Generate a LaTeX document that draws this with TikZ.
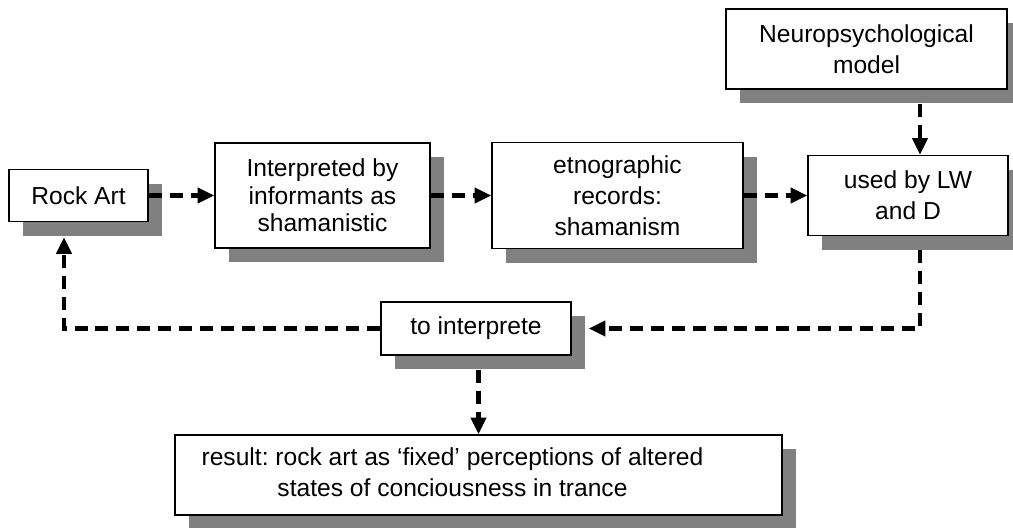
\documentclass[tikz,border=0pt]{standalone}
\usepackage{fontspec}
\setmainfont{Liberation Sans}
\usetikzlibrary{arrows.meta, shadows}
\frenchspacing
\newlength{\pxl}
\setlength{\pxl}{0.02cm}
\definecolor{shadowgray}{RGB}{128,128,128}
\tikzstyle{sbox}=[rectangle, draw=black, line width=0.8pt, fill=white,
  align=center, font=\fontsize{14}{17.5}\selectfont, inner sep=2pt,
  drop shadow={shadow xshift=14\pxl, shadow yshift=-14\pxl,
  fill=shadowgray, opacity=1}]
\tikzstyle{darr}=[-{Triangle[length=9.5pt, width=8.5pt]}, line width=2.3pt,
  dash pattern=on 7.4pt off 4.5pt]

\begin{document}
\begin{tikzpicture}[x=0.02cm, y=-0.02cm]
  \useasboundingbox (0,0) rectangle (1013,527);
  \node[sbox, minimum width=139\pxl, minimum height=52\pxl] (rock) at (78.5,195.5)
    {Rock Art};
  \node[sbox, minimum width=215\pxl, minimum height=105\pxl,
    font=\fontsize{14}{15.6}\selectfont] (inf) at (322.5,195.5)
    {Interpreted by\\informants as\\shamanistic};
  \node[sbox, minimum width=251\pxl, minimum height=106\pxl] (etno) at (617.5,195.5)
    {etnographic\\records:\\shamanism};
  \node[sbox, minimum width=200\pxl, minimum height=80\pxl] (used) at (908,195.5)
    {used by LW\\and D};
  \node[sbox, minimum width=281\pxl, minimum height=80\pxl] (neuro) at (866.5,49)
    {Neuropsychological\\model};
  \node[sbox, minimum width=190\pxl, minimum height=53\pxl] (interp) at (476,328.5)
    {to interprete};
  \node[sbox, minimum width=607\pxl, minimum height=80\pxl] (res) at (478.5,475)
    {\hspace*{-52\pxl}\begin{tabular}{@{}c@{}}result: rock art as `fixed' perceptions of altered\\states of conciousness in trance\end{tabular}};
  \draw[darr] (rock.east) -- (rock.east -| inf.west);
  \draw[darr] (inf.east) -- (inf.east -| etno.west);
  \draw[darr] (etno.east) -- (etno.east -| used.west);
  \draw[darr, shorten <=14\pxl] ([xshift=12\pxl]used.north |- neuro.south)
    -- ([xshift=12\pxl]used.north);
  \draw[darr, shorten <=14\pxl, shorten >=17\pxl] ([xshift=12\pxl]used.south)
    |- (interp.east);
  \draw[darr, shorten >=15\pxl] (interp.west) -| ([xshift=-14.5\pxl]rock.south);
  \draw[darr, shorten <=14\pxl] (interp.south -| res.north) -- (res.north);
\end{tikzpicture}
\end{document}
